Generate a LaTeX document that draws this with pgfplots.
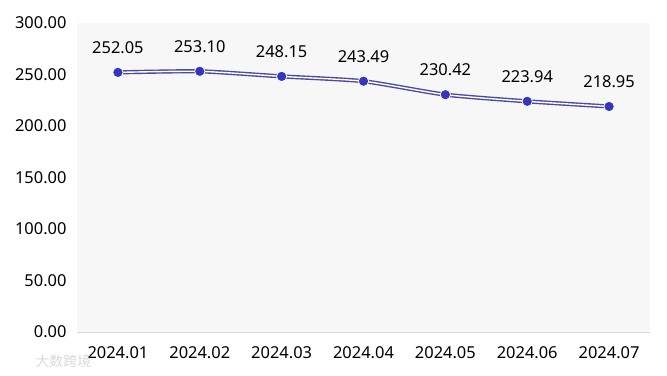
\documentclass[border=0pt]{standalone}
\usepackage{pgfplots}
\pgfplotsset{compat=1.18}
\usepackage{fontspec}
\setmainfont{Noto Sans}
\newfontfamily\cjk{Noto Sans CJK SC}
\definecolor{bgc}{HTML}{F7F7F7}
\definecolor{lineout}{HTML}{4A4AA6}
\definecolor{mk}{HTML}{3535BE}
\definecolor{axc}{HTML}{D9D9D9}
\begin{document}
\begin{tikzpicture}[x=1bp,y=1bp]
\useasboundingbox (0,0) rectangle (667,375);
\begin{axis}[
  at={(77bp,43bp)}, anchor=south west,
  scale only axis, width=573bp, height=309bp,
  xmin=-0.5, xmax=6.5, ymin=0, ymax=300,
  axis background/.style={fill=bgc},
  axis line style={draw=none},
  axis x line*=bottom, axis y line*=left,
  xtick={0,...,6},
  xticklabels={2024.01,2024.02,2024.03,2024.04,2024.05,2024.06,2024.07},
  ytick={0,50,...,300},
  yticklabel={\pgfmathprintnumber[fixed,fixed zerofill,precision=2]{\tick}},
  /pgf/number format/assume math mode=true,
  tick style={draw=none},
  ticklabel style={font=\fontsize{16.5}{19}\selectfont, text=black},
  xticklabel style={yshift=-11bp},
  yticklabel style={xshift=-7bp},
  clip=false,
  nodes near coords,
  point meta=explicit symbolic,
  nodes near coords style={font=\fontsize{16.5}{19}\selectfont, text=black, yshift=15bp},
]
\draw[axc, line width=0.8bp] (rel axis cs:0,0) -- (rel axis cs:1,0);
\addplot[smooth, tension=0.35, draw=lineout, line width=4.2bp, forget plot, nodes near coords={}] coordinates {
(0,252.05) (1,253.10) (2,248.15) (3,243.49) (4,230.42) (5,223.94) (6,218.95)};
\addplot[smooth, tension=0.35, draw=white, line width=1.4bp, mark=*, mark size=5.2bp,
  mark options={fill=mk, draw=white, line width=0.8bp}] table[meta=l] {
x y l
0 252.05 252.05
1 253.10 253.10
2 248.15 248.15
3 243.49 243.49
4 230.42 230.42
5 223.94 223.94
6 218.95 218.95
};
\end{axis}
\node[anchor=west, text=black!15, font=\cjk\fontsize{14}{16}\selectfont] at (32,14) {大数跨境};
\end{tikzpicture}
\end{document}
